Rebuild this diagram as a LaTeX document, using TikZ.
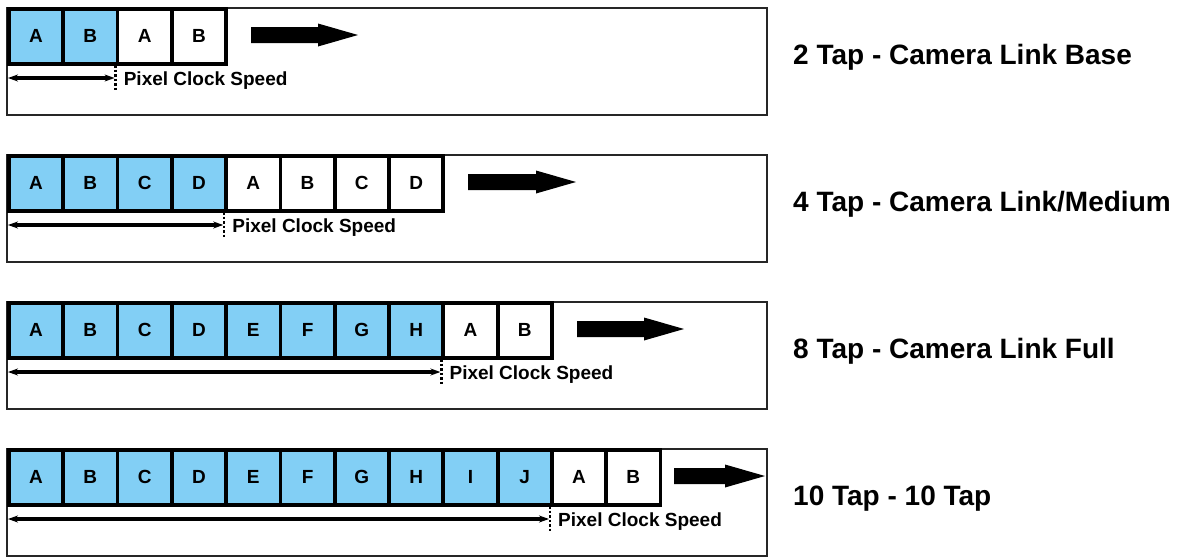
\documentclass[tikz,border=0pt]{standalone}
\usepackage{fontspec}
\setmainfont{Liberation Sans}
\usetikzlibrary{arrows.meta}
\definecolor{cellblue}{RGB}{130,207,245}
\begin{document}
\begin{tikzpicture}[x=1pt,y=-1pt,
  panel/.style={draw=black!85,line width=1.8pt},
  cellbox/.style={draw=black,line width=3.8pt,minimum width=54.3pt,minimum height=55pt,inner sep=0pt,
    font=\fontsize{19}{22}\selectfont\bfseries,anchor=north west},
  speedarrow/.style={line width=3.4pt,{Stealth[length=10pt,width=7pt]}-{Stealth[length=10pt,width=7pt]}},
  tick/.style={line width=2.4pt,dash pattern=on 2.5pt off 2pt},
  speedlabel/.style={font=\fontsize{19}{22}\selectfont\bfseries,anchor=base west,inner sep=0pt},
  title/.style={font=\fontsize{28}{32}\selectfont\bfseries,anchor=base west,inner sep=0pt},
  blockarrow/.style={fill=black}]
\useasboundingbox (0,0) rectangle (1186,557);
\foreach \p/\n/\nb/\letters/\as/\ae/\ttl in {
  0/4/2/{A,B,A,B}/251/358/{2 Tap - Camera Link Base},
  1/8/4/{A,B,C,D,A,B,C,D}/468/576/{4 Tap - Camera Link/Medium},
  2/10/8/{A,B,C,D,E,F,G,H,A,B}/577/684/{8 Tap - Camera Link Full},
  3/12/10/{A,B,C,D,E,F,G,H,I,J,A,B}/674/765/{10 Tap - 10 Tap}}{
  \pgfmathsetmacro{\off}{147*\p}
  \draw[panel] (7,8+\off) rectangle (767,115+\off);
  \foreach \l [count=\i] in \letters {
    \pgfmathsetmacro{\cx}{7+54.3*(\i-1)}
    \ifnum\i>\nb
      \node[cellbox,fill=white] (c\p-\i) at (\cx,7+\off) {\l};
    \else
      \node[cellbox,fill=cellblue] (c\p-\i) at (\cx,7+\off) {\l};
    \fi
  }
  \pgfmathsetmacro{\bx}{7+54.3*\nb}
  \coordinate (L\p) at (8,78+\off);
  \coordinate (R\p) at (\bx-1,78+\off);
  \coordinate (T\p) at (\bx,65+\off);
  \coordinate (B\p) at (\bx,90+\off);
  \draw[speedarrow] (L\p) -- (R\p);
  \draw[tick] (T\p) -- (B\p);
  \node[speedlabel] (s\p) at (\bx+8,85+\off) {Pixel Clock Speed};
  \pgfmathsetmacro{\hs}{\ae-40}
  \fill[blockarrow] (\as,27+\off) -- (\hs,27+\off) -- (\hs,23.5+\off) -- (\ae,35+\off)
     -- (\hs,46.5+\off) -- (\hs,43+\off) -- (\as,43+\off) -- cycle;
  \node[title] (t\p) at (793,64.5+\off) {\ttl};
}
\end{tikzpicture}
\end{document}
